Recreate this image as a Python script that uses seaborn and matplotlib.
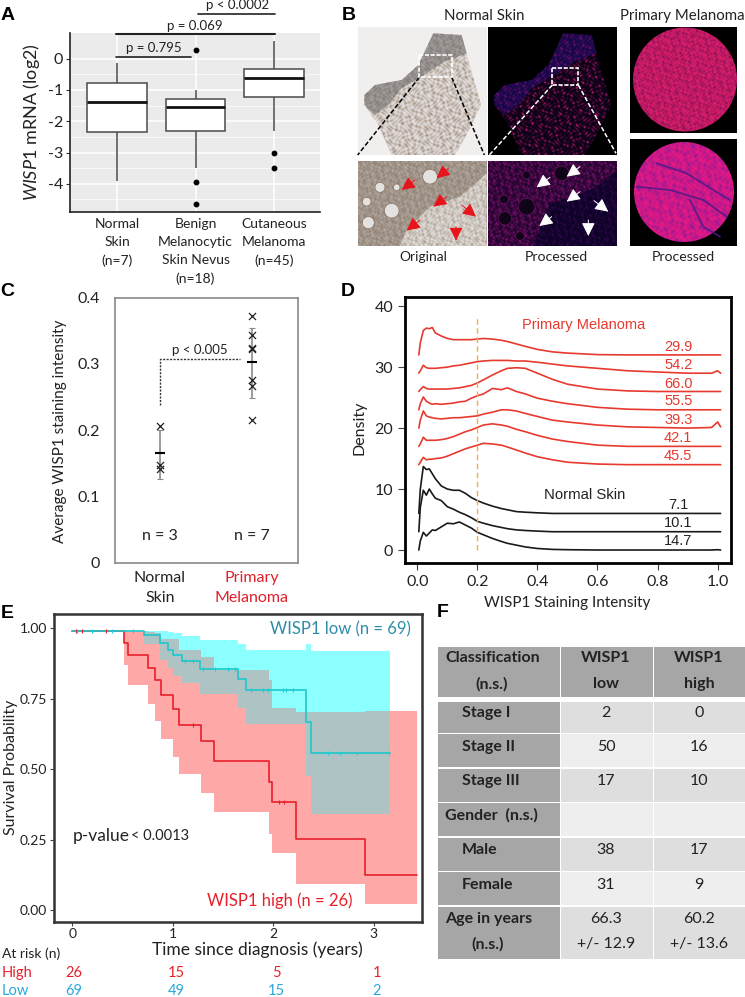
import numpy as np
import pandas as pd
import matplotlib
matplotlib.use("Agg")
import matplotlib.pyplot as plt
from matplotlib.colors import to_rgb
from matplotlib.patches import Rectangle, Polygon, Circle
import seaborn as sns

W, H = 745, 997

# panel A
box_groups = ["Normal\nSkin\n(n=7)", "Benign\nMelanocytic\nSkin Nevus\n(n=18)", "Cutaneous\nMelanoma\n(n=45)"]
normal_mrna = [-3.9, -2.4, -2.26, -1.4, -0.9, -0.64, -0.13]
nevus_mrna = [-4.65, -3.95, -3.5, -2.32, -2.0, -1.8, -1.55, -1.45, -1.35, -1.3, -1.15, -1.0, 0.28]
melanoma_mrna = [-3.5, -3.0, -2.3, -1.22, -1.0, -0.8, -0.62, -0.5, -0.4, -0.33, -0.1, 0.2, 0.57]

# panel C
c_normal = [0.207, 0.147, 0.141]
c_melanoma = [0.372, 0.344, 0.3235, 0.323, 0.276, 0.266, 0.215]
c_means = [0.165, 0.303]
c_low = [0.127, 0.249]
c_high = [0.2, 0.355]

# panel D
d_x = [.005, .01, .02, .03, .04, .05, .06, .08, .1, .12, .14, .16, .18, .2, .22, .25, .28, .3, .33, .36,
       .4, .45, .5, .6, .7, .8, .9, .98, 1.0, 1.01]
m299 = [32, 34, 36, 36.4, 36.3, 36.5, 35.6, 35.1, 34.7, 34.5, 34.5, 34.5, 34.5, 34.6, 34.7, 34.6, 34.4, 34.2, 33.8, 33.4, 32.9, 32.5, 32.3, 32.05, 32, 32, 32, 32, 32, 32]
m542 = [29, 29.4, 30.3, 29.9, 29.8, 29.8, 29.8, 29.9, 30, 30.2, 30.3, 30.5, 30.7, 30.9, 31, 31.1, 31.1, 31.1, 31, 31, 30.8, 30.5, 30.2, 29.8, 29.4, 29.2, 29, 29, 29.4, 29]
m660 = [26, 26.3, 26.8, 26.5, 26.4, 26.4, 26.4, 26.4, 26.4, 26.5, 26.6, 26.8, 27, 27.4, 27.9, 28.7, 29.4, 29.8, 29.9, 29.8, 29, 28, 27.2, 26.4, 26.1, 26, 26, 26, 26, 26]
m555 = [23, 24, 25.1, 24.4, 24.1, 23.9, 24, 23.9, 24, 24.1, 24.3, 24.4, 24.9, 25.3, 25.6, 26.5, 26.3, 26.6, 26, 25.6, 24.9, 24.4, 24, 23.4, 23.1, 23, 23, 23, 23, 23]
m393 = [20, 21.3, 22.8, 22, 21.8, 21.7, 21.6, 21.5, 21.6, 21.7, 21.7, 21.8, 21.9, 22, 22.3, 22.6, 23, 23, 22.8, 22.4, 21.9, 21.3, 21, 20.5, 20.2, 20.1, 20, 20.1, 21, 20.2]
m421 = [17, 17.4, 18.5, 18, 18, 18, 18, 18.1, 18.3, 18.6, 19, 19.4, 19.7, 20.1, 20.5, 20.7, 20.5, 20.3, 19.8, 19.4, 18.8, 18.2, 17.8, 17.2, 17, 17, 17, 17, 17, 17]
m455 = [14, 14.4, 15.2, 14.8, 14.9, 14.9, 15, 15.1, 15.4, 15.8, 16.2, 16.6, 16.9, 17.2, 17.5, 17.4, 17.2, 16.9, 16.4, 15.9, 15.3, 14.8, 14.4, 14.1, 14, 14, 14, 14, 14, 14]
n71 = [6, 10, 13.7, 13.2, 13.3, 12.5, 11.7, 10.5, 10, 9.8, 9.8, 9.3, 8.6, 8.1, 7.7, 7.2, 6.8, 6.6, 6.3, 6.2, 6.1, 6, 6, 6, 6, 6, 6, 6, 6, 6]
n101 = [3, 7, 9.8, 9, 10, 9.2, 8.5, 8.1, 7.1, 6.7, 6.2, 5.8, 5.3, 4.7, 4.4, 4, 3.7, 3.5, 3.3, 3.2, 3.1, 3, 3, 3, 3, 3, 3, 3, 3, 3]
n147 = [0, 1.5, 2.9, 2.3, 2.8, 3.3, 3.2, 3.8, 4.4, 4.3, 4.6, 4.1, 3.6, 2.9, 2.5, 1.9, 1.4, 1.1, .8, .5, .25, .1, .05, 0, 0, 0, 0, 0, .05, 0]
red_curves = [m299, m542, m660, m555, m393, m421, m455]
black_curves = [n71, n101, n147]
red_labels = ["29.9", "54.2", "66.0", "55.5", "39.3", "42.1", "45.5"]
red_label_y = [33.3, 30.4, 27.3, 24.4, 21.4, 18.4, 15.5]
black_labels = ["7.1", "10.1", "14.7"]
black_label_y = [7.4, 4.5, 1.4]

# panel E
t_high = [0, .514, .551, .756, .823, .883, .999, 1.065, 1.284, 1.407, 1.961, 1.991, 2.233, 2.916, 3.434]
s_high = [.99, .948, .904, .859, .816, .762, .712, .658, .598, .530, .455, .382, .253, .125, .125]
high_upper = [.99, .99, .99, .985, .981, .96, .96, .922, .896, .851, .816, .715, .703, .707, .707]
high_lower = [.99, .869, .798, .730, .671, .605, .544, .481, .416, .346, .270, .201, .091, .022, .022]
t_low = [0, .713, .873, .956, 1.005, 1.088, 1.277, 1.652, 1.735, 2.332, 2.382, 3.162]
s_low = [.99, .975, .946, .922, .904, .883, .856, .818, .780, .668, .558, .558]
low_upper = [.99, .99, .99, .985, .981, .973, .957, .942, .922, .942, .917, .917]
low_lower = [.99, .943, .887, .857, .83, .804, .766, .715, .66, .475, .34, .34]
censor_high = [.04, .1, .34, 1.2, 2.06, 2.11]
censor_low = [.05, .2, .4, .6, 1.12, 1.2, 1.3, 1.42, 1.55, 1.62, 1.78, 1.9, 1.95, 2.1, 2.13, 2.2, 2.55, 2.67, 2.84, 3.15]
risk_high = ["26", "15", "5", "1"]
risk_low = ["69", "49", "15", "2"]

# panel F
table_rows = [
    ("Stage I", "2", "0", True),
    ("Stage II", "50", "16", True),
    ("Stage III", "17", "10", True),
    ("Gender  (n.s.)", "", "", False),
    ("Male", "38", "17", True),
    ("Female", "31", "9", True),
]

sns.set_style("white")
plt.rcParams["font.family"] = ["Lato", "DejaVu Sans"]
plt.rcParams["mathtext.fontset"] = "custom"
plt.rcParams["mathtext.rm"] = "Lato"
plt.rcParams["mathtext.it"] = "Lato:italic"

TEXT = "#222222"
ARIAL = ["Liberation Sans", "DejaVu Sans"]


def px_axes(x0, y0, x1, y1):
    return fig.add_axes([x0 / W, 1 - y1 / H, (x1 - x0) / W, (y1 - y0) / H])


def put(x, y, s, size=10.5, color=TEXT, ha="center", **kw):
    ov.text(x, y, s, fontsize=size, color=color, ha=ha, va="center", **kw)


def zb(points):
    return [(320 + a / 3, b / 3) for a, b in points]


def mottle(w, h, f=1.0):
    # plain sine pattern, stands in for the tissue grain of the micrographs
    yy, xx = np.mgrid[0:h, 0:w]
    m = np.sin(xx * .9 * f + 2 * np.sin(yy * .37 * f)) * np.sin(yy * .83 * f + 2 * np.sin(xx * .29 * f))
    m = m + .6 * np.sin((xx + yy) * .31 * f + 1) * np.sin((xx - yy) * .47 * f)
    return (m - m.min()) / (m.max() - m.min())


def texture(x0, y0, x1, y1, c0, c1, clip=None, f=1.0, gamma=1.0, z=1.1):
    t = mottle(int(x1 - x0), int(y1 - y0), f) ** gamma
    rgb = np.array(to_rgb(c0)) + t[..., None] * (np.array(to_rgb(c1)) - np.array(to_rgb(c0)))
    im = ov.imshow(rgb, extent=(x0, x1, y1, y0), aspect="auto", interpolation="bilinear", zorder=z)
    if clip is not None:
        clip.set_transform(ov.transData)
        im.set_clip_path(clip)


fig = plt.figure(figsize=(W / 100, H / 100), dpi=100, facecolor="white")

# overlay in pixel coordinates, for labels and the micrograph panel
ov = fig.add_axes([0, 0, 1, 1], zorder=5)
ov.set_xlim(0, W)
ov.set_ylim(H, 0)
ov.set_autoscale_on(False)
ov.axis("off")
ov.patch.set_alpha(0)

for s, x, y in [("A", 8, 15), ("B", 349, 15), ("C", 7, 291), ("D", 348, 291), ("E", 7, 613), ("F", 443, 612)]:
    put(x, y, s, size=14, color="black", family=ARIAL, fontweight="bold")

# A ---------------------------------------------------------------
ax = px_axes(70, 33, 320, 212)
box_df = pd.DataFrame({
    "group": [box_groups[0]] * len(normal_mrna) + [box_groups[1]] * len(nevus_mrna) + [box_groups[2]] * len(melanoma_mrna),
    "value": normal_mrna + nevus_mrna + melanoma_mrna,
})
sns.boxplot(data=box_df, x="group", y="value", order=box_groups, ax=ax, color="white", linecolor="#4a4a4a",
            width=0.755, linewidth=1.1, showcaps=False, zorder=3,
            medianprops=dict(color="#111111", linewidth=2),
            flierprops=dict(marker="o", markerfacecolor="black", markeredgecolor="black", markersize=3.2))
ax.set_facecolor("#ebebeb")
ax.set_xlim(-0.6, 2.587)
ax.set_ylim(-4.9, 0.82)
ax.set_yticks([0, -1, -2, -3, -4], ["0", "-1", "-2", "-3", "-4"])
ax.set_yticks([-0.5, -1.5, -2.5, -3.5, -4.5], minor=True)
ax.grid(True, which="major", color="white", linewidth=1.1)
ax.grid(True, which="minor", axis="y", color="white", linewidth=0.5)
ax.set_axisbelow(True)
ax.tick_params(axis="y", which="major", labelsize=11.5, left=True, length=3, color="#333333", labelcolor=TEXT, pad=2)
ax.tick_params(axis="y", which="minor", left=False)
ax.tick_params(axis="x", labelsize=10, bottom=False, labelcolor=TEXT, pad=1)
for lab in ax.get_xticklabels():
    lab.set_linespacing(1.6)
for side in ["top", "right"]:
    ax.spines[side].set_visible(False)
for side in ["left", "bottom"]:
    ax.spines[side].set_color("#222222")
    ax.spines[side].set_linewidth(1.2)
ax.set_xlabel("")
ax.set_ylabel(r"$\mathit{WISP1}$ mRNA (log2)", fontsize=13, color=TEXT, va="center")
ax.yaxis.set_label_coords(32, 122, transform=ov.transData)

for x0, x1, y, w, tx, ty, s in [(116, 191, 57, 1.2, 154, 48, "p = 0.795"),
                                (116, 275, 34.3, 1.5, 195, 26, "p = 0.069"),
                                (198, 275, 14, 1.2, 238, 5, "p < 0.0002")]:
    ov.plot([x0, x1], [y, y], color="#222222", lw=w)
    put(tx, ty, s, size=9.5)

# B ---------------------------------------------------------------
put(484, 16, "Normal Skin", size=10.8)
put(682, 16, "Primary Melanoma", size=10.8)
put(423, 257, "Original", size=10)
put(556, 257, "Processed", size=10.2)
put(683, 257, "Processed", size=10.2)

ov.add_patch(Rectangle((358, 27), 129, 128, fc="#f1eeee", ec="none"))
ov.add_patch(Rectangle((488, 27), 129, 128, fc="black", ec="none"))
ov.add_patch(Rectangle((630, 27), 107, 106, fc="black", ec="none"))
ov.add_patch(Rectangle((630, 139), 107, 107, fc="black", ec="none"))

tissue = [(133, 285), (165, 255), (245, 240), (295, 195), (340, 100), (425, 105), (440, 165), (475, 285),
          (483, 315), (445, 395), (405, 465), (215, 465), (175, 375), (133, 315)]
epidermis = [(133, 285), (165, 255), (245, 240), (295, 195), (340, 100), (425, 105), (440, 160), (375, 185),
             (295, 235), (245, 265), (205, 315), (165, 345), (133, 315)]
texture(358, 27, 487, 155, "#e4e2e2", "#a08a78", Polygon(zb(tissue)), f=1.1, gamma=1.6)
texture(358, 27, 487, 155, "#a8a4a2", "#807a76", Polygon(zb(epidermis)), f=1.1, z=1.2)
texture(488, 27, 617, 155, "#0a0214", "#d01880", Polygon(zb([(a + 390, b) for a, b in tissue])), f=1.1, gamma=3.5)
texture(488, 27, 617, 155, "#160848", "#801078", Polygon(zb([(a + 390, b) for a, b in epidermis])), f=1.1, gamma=3, z=1.2)

texture(630, 27, 737, 133, "#7c1058", "#e8206a", Circle((685, 79.5), 52), f=1.2, gamma=0.7)
texture(630, 139, 737, 246, "#6a1c9c", "#f01880", Circle((684, 192), 50), f=0.9, gamma=0.45)
for pts in [[(950, 560), (1050, 570), (1150, 600), (1220, 650)], [(1010, 490), (1100, 520), (1180, 570), (1230, 600)],
            [(1110, 600), (1150, 680), (1200, 710)]]:
    arr = zb(pts)
    ov.plot([p[0] for p in arr], [p[1] for p in arr], color="#4a1a8a", lw=1.4, alpha=0.8, zorder=1.3)

# cropped views, holes and arrows
texture(358, 162, 487, 246, "#b8ada4", "#8a7c70", f=1.2)
texture(358, 162, 487, 246, "#e2e0de", "#aa9a8a", Polygon(zb([(240, 738), (260, 690), (330, 620), (420, 590),
                                                             (500, 520), (500, 738)])), f=1.2, gamma=1.5, z=1.2)
texture(488, 162, 617, 246, "#1a0428", "#8a1078", f=1.2, gamma=1.8)
texture(488, 162, 617, 246, "#0a0224", "#40085a", Polygon(zb([(640, 738), (690, 610), (760, 590), (830, 560),
                                                             (892, 510), (892, 738)])), f=1.2, gamma=2.5, z=1.2)
for a, b, r in [(330, 530, 22), (215, 632, 22), (145, 668, 18), (180, 562, 15), (140, 605, 13), (230, 562, 10)]:
    x, y = zb([(a, b)])[0]
    ov.add_patch(Circle((x, y), r / 3, fc="#e4e2e0", ec="#8a7060", lw=0.5, zorder=1.3))
for a, b, r in [(620, 620, 25), (555, 655, 20), (725, 520, 22), (552, 598, 13), (620, 525, 12), (600, 708, 13)]:
    x, y = zb([(a, b)])[0]
    ov.add_patch(Circle((x, y), r / 3, fc="#100418", ec="#701060", lw=0.5, zorder=1.3))


def arrow(a0, b0, a1, b1, color):
    (x0, y0), (x1, y1) = zb([(a0, b0), (a1, b1)])
    ov.annotate("", xy=(x1, y1), xytext=(x0, y0), zorder=3,
                arrowprops=dict(arrowstyle="-|>,head_width=0.45,head_length=0.9", mutation_scale=9,
                                color=color, lw=0.7, shrinkA=0, shrinkB=0))


for a0, b0, a1, b1 in [(385, 505, 350, 535), (285, 540, 245, 570), (380, 590, 340, 620), (300, 660, 260, 692)]:
    arrow(a0, b0, a1, b1, "#e8141c")
arrow(425, 615, 468, 650, "#e8141c")
arrow(408, 680, 408, 722, "#e8141c")
for a0, b0, a1, b1 in [(780, 500, 740, 530), (690, 532, 650, 562), (780, 575, 740, 605), (695, 650, 658, 678)]:
    arrow(a0, b0, a1, b1, "white")
arrow(822, 602, 865, 635, "white")
arrow(805, 660, 805, 708, "white")

for a0, a1, b0, b1 in [(298, 113, 232, 465), (395, 493, 232, 465)]:
    (x0, y0), (x1, y1) = zb([(a0, b0), (a1, b1)])
    ov.plot([x0, x1], [y0, y1], color="black", lw=1.1, ls=(0, (3, 1.5)))
for a0, a1, b0, b1 in [(697, 508, 255, 465), (775, 888, 255, 460)]:
    (x0, y0), (x1, y1) = zb([(a0, b0), (a1, b1)])
    ov.plot([x0, x1], [y0, y1], color="white", lw=1.1, ls=(0, (3, 1.5)))
(x0, y0), (x1, y1) = zb([(298, 165), (395, 232)])
ov.add_patch(Rectangle((x0, y0), x1 - x0, y1 - y0, fc="none", ec="white", lw=1.2, ls=(0, (2.5, 1)), zorder=2))
(x0, y0), (x1, y1) = zb([(697, 203), (775, 255)])
ov.add_patch(Rectangle((x0, y0), x1 - x0, y1 - y0, fc="none", ec="white", lw=1.2, ls=(0, (2.5, 1)), zorder=2))

# C ---------------------------------------------------------------
ax = px_axes(115, 297.7, 298, 562.7)
c_df = pd.DataFrame({"pos": [0] * len(c_normal) + [1] * len(c_melanoma), "value": c_normal + c_melanoma})
ax.errorbar([0, 1], c_means, yerr=[np.array(c_means) - np.array(c_low), np.array(c_high) - np.array(c_means)],
            fmt="none", ecolor="#8a8a8a", elinewidth=1.2, capsize=2, capthick=0.8)
sns.scatterplot(data=c_df, x="pos", y="value", marker="x", color="#222222", s=26, linewidth=0.9, ax=ax, zorder=3)
sns.scatterplot(x=[0, 1], y=c_means, marker="_", color="black", s=50, linewidth=1.5, ax=ax, zorder=4)
ax.plot([0, 0, 0.87], [0.238, 0.307, 0.307], color="#333333", lw=1, ls=(0, (1.5, 1)))
ax.set_xlim(-0.489, 1.5)
ax.set_ylim(0, 0.4)
ax.set_yticks([0, 0.1, 0.2, 0.3, 0.4], ["0", "0.1", "0.2", "0.3", "0.4"])
ax.set_xticks([0, 1], ["Normal\nSkin", "Primary\nMelanoma"])
ax.tick_params(axis="both", length=0, labelsize=11.5, labelcolor=TEXT)
ax.get_xticklabels()[1].set_color("#e0202a")
for lab in ax.get_xticklabels():
    lab.set_linespacing(1.5)
ax.tick_params(axis="x", pad=6)
ax.tick_params(axis="y", pad=11)
for sp in ax.spines.values():
    sp.set_color("#8a8a8a")
    sp.set_linewidth(1.2)
ax.set_xlabel("")
ax.set_ylabel("Average WISP1 staining intensity", fontsize=11, color=TEXT, va="center")
ax.yaxis.set_label_coords(60, 431, transform=ov.transData)
put(200, 350, "p < 0.005", size=9.5)
put(160, 536, "n = 3", size=11.5)
put(252, 536, "n = 7", size=11.5)

# D ---------------------------------------------------------------
ax = px_axes(405, 297, 731, 563)
for curve in red_curves:
    sns.lineplot(x=d_x, y=curve, color="#e8392f", linewidth=1.2, estimator=None, ax=ax)
for curve in black_curves:
    sns.lineplot(x=d_x, y=curve, color="#1a1a1a", linewidth=1.2, estimator=None, ax=ax)
ax.plot([0.2, 0.2], [0, 38.2], color="#eeb04a", lw=1, ls=(0, (4, 2.5)))
ax.set_xlim(-0.041, 1.0446)
ax.set_ylim(-2.13, 41.5)
ax.set_xticks([0, .2, .4, .6, .8, 1.0], ["0.0", "0.2", "0.4", "0.6", "0.8", "1.0"])
ax.set_yticks([0, 10, 20, 30, 40])
ax.tick_params(axis="both", bottom=True, left=True, length=5, width=0.8, color="#444444", labelsize=11.5,
               labelcolor=TEXT)
for sp in ax.spines.values():
    sp.set_color("black")
    sp.set_linewidth(2)
ax.set_xlabel("WISP1 Staining Intensity", fontsize=11, color=TEXT, va="center")
ax.xaxis.set_label_coords(567, 603, transform=ov.transData)
ax.set_ylabel("Density", fontsize=11.5, color=TEXT, va="center")
ax.yaxis.set_label_coords(359, 428, transform=ov.transData)
for s, y in zip(red_labels, red_label_y):
    ax.text(0.869, y, s, fontsize=10.5, color="#e8392f", ha="center", va="center", family=ARIAL)
for s, y in zip(black_labels, black_label_y):
    ax.text(0.869, y, s, fontsize=10.5, color="#222222", ha="center", va="center", family=ARIAL)
ax.text(0.555, 36.9, "Primary Melanoma", fontsize=10.5, color="#e8392f", ha="center", va="center", family=ARIAL)
ax.text(0.558, 9.1, "Normal Skin", fontsize=10.7, color="#222222", ha="center", va="center", family=ARIAL)

# E ---------------------------------------------------------------
ax = px_axes(54, 614, 422, 922)
# both bands share one time grid so the overlap can get its own grey
t_all = np.array(sorted(set(t_high) | set(t_low)))
i_h = np.searchsorted(t_high, t_all, side="right") - 1
i_l = np.searchsorted(t_low, t_all, side="right") - 1
ov_low = np.maximum(np.array(high_lower)[i_h], np.array(low_lower)[i_l])
ov_up = np.minimum(np.array(high_upper)[i_h], np.array(low_upper)[i_l])
in_low = t_all <= t_low[-1]
ax.fill_between(t_low, low_lower, low_upper, step="post", color="#8cffff", linewidth=0)
ax.fill_between(t_high, high_lower, high_upper, step="post", color="#ffa8a8", linewidth=0)
ax.fill_between(t_all[in_low], ov_low[in_low], ov_up[in_low], where=ov_up[in_low] > ov_low[in_low], step="post",
                color="#aec4c4", linewidth=0)
sns.lineplot(x=t_high, y=s_high, drawstyle="steps-post", color="#e8202a", linewidth=1.2, estimator=None, ax=ax)
sns.lineplot(x=t_low, y=s_low, drawstyle="steps-post", color="#1cc8cc", linewidth=1.2, estimator=None, ax=ax)
y_cens_high = np.array(s_high)[np.searchsorted(t_high, censor_high, side="right") - 1]
y_cens_low = np.array(s_low)[np.searchsorted(t_low, censor_low, side="right") - 1]
sns.scatterplot(x=censor_high, y=y_cens_high, marker="|", color="#e8202a", s=12, linewidth=0.8, ax=ax, zorder=4)
sns.scatterplot(x=censor_low, y=y_cens_low, marker="|", color="#18d0d8", s=12, linewidth=0.8, ax=ax, zorder=4)
ax.set_xlim(-0.182, 3.483)
ax.set_ylim(-0.0426, 1.05)
ax.set_xticks([0, 1, 2, 3])
ax.set_yticks([0, .25, .5, .75, 1], ["0.00", "0.25", "0.50", "0.75", "1.00"])
ax.tick_params(axis="both", bottom=True, left=True, length=3, width=0.8, color="#444444", labelsize=10,
               labelcolor=TEXT, pad=2)
ax.tick_params(axis="x", pad=1)
for sp in ax.spines.values():
    sp.set_color("#333333")
    sp.set_linewidth(1.8)
ax.set_xlabel("Time since diagnosis (years)", fontsize=12.5, color=TEXT, va="center")
ax.xaxis.set_label_coords(257, 950, transform=ov.transData)
ax.set_ylabel("Survival Probability", fontsize=11.5, color=TEXT, va="center")
ax.yaxis.set_label_coords(11, 767, transform=ov.transData)

put(340.7, 629, "WISP1 low (n = 69)", size=12, color="#2f8da8")
put(280, 901, "WISP1 high (n = 26)", size=12, color="#e8202a")
put(73, 836, "p-value", size=12.5, ha="left")
put(131, 836, "< 0.0013", size=10.5, ha="left")
put(2, 954, "At risk (n)", size=10, ha="left")
put(2, 973, "High", size=10.5, color="#e8202a", ha="left")
put(2, 991, "Low", size=10.5, color="#2aa8dc", ha="left")
for x, hi, lo in zip([74, 176, 276, 377], risk_high, risk_low):
    put(x, 973, hi, size=10.5, color="#e8202a")
    put(x, 991, lo, size=10.5, color="#2aa8dc")

# F ---------------------------------------------------------------
col_x = [(437.7, 560), (561.3, 652.7), (654, 745)]
row_y = [(701.7, 732.7), (734.3, 767.3), (769, 801.7), (803.3, 836), (837.7, 870.7), (872, 905)]
HEAD = "#a6a6a6"
for x0, x1 in col_x:
    ov.add_patch(Rectangle((x0, 646.7), x1 - x0, 50.6, fc=HEAD, ec="none"))
put(445, 658, "Classification", size=11.5, ha="left", fontweight="bold")
put(491.7, 684, "(n.s.)", size=11.5, fontweight="bold")
put(606, 658, "WISP1", size=11.5, fontweight="bold")
put(606, 684, "low", size=11.5, fontweight="bold")
put(699, 658, "WISP1", size=11.5, fontweight="bold")
put(699, 684, "high", size=11.5, fontweight="bold")
for i, ((y0, y1), (name, low, high, indent)) in enumerate(zip(row_y, table_rows)):
    fc = "#dedede" if i % 2 == 0 else "#eeeeee"
    ov.add_patch(Rectangle((col_x[0][0], y0), col_x[0][1] - col_x[0][0], y1 - y0, fc=HEAD, ec="none"))
    ov.add_patch(Rectangle((col_x[1][0], y0), col_x[1][1] - col_x[1][0], y1 - y0, fc=fc, ec="none"))
    ov.add_patch(Rectangle((col_x[2][0], y0), col_x[2][1] - col_x[2][0], y1 - y0, fc=fc, ec="none"))
    ym = (y0 + y1) / 2 - 4
    put(461.7 if indent else 445, ym, name, size=11.5, ha="left", fontweight="bold")
    put(606, ym, low, size=11.5)
    put(699, ym, high, size=11.5)
y0, y1 = 906.7, 959
ov.add_patch(Rectangle((col_x[0][0], y0), col_x[0][1] - col_x[0][0], y1 - y0, fc=HEAD, ec="none"))
ov.add_patch(Rectangle((col_x[1][0], y0), col_x[1][1] - col_x[1][0], y1 - y0, fc="#dedede", ec="none"))
ov.add_patch(Rectangle((col_x[2][0], y0), col_x[2][1] - col_x[2][0], y1 - y0, fc="#dedede", ec="none"))
put(445, 919, "Age in years", size=11.5, ha="left", fontweight="bold")
put(488, 944, "(n.s.)", size=11.5, fontweight="bold")
put(606, 919, "66.3", size=11.5)
put(606, 944, "+/- 12.9", size=11.5)
put(699, 919, "60.2", size=11.5)
put(699, 944, "+/- 13.6", size=11.5)

fig.savefig("out.png", dpi=100)
